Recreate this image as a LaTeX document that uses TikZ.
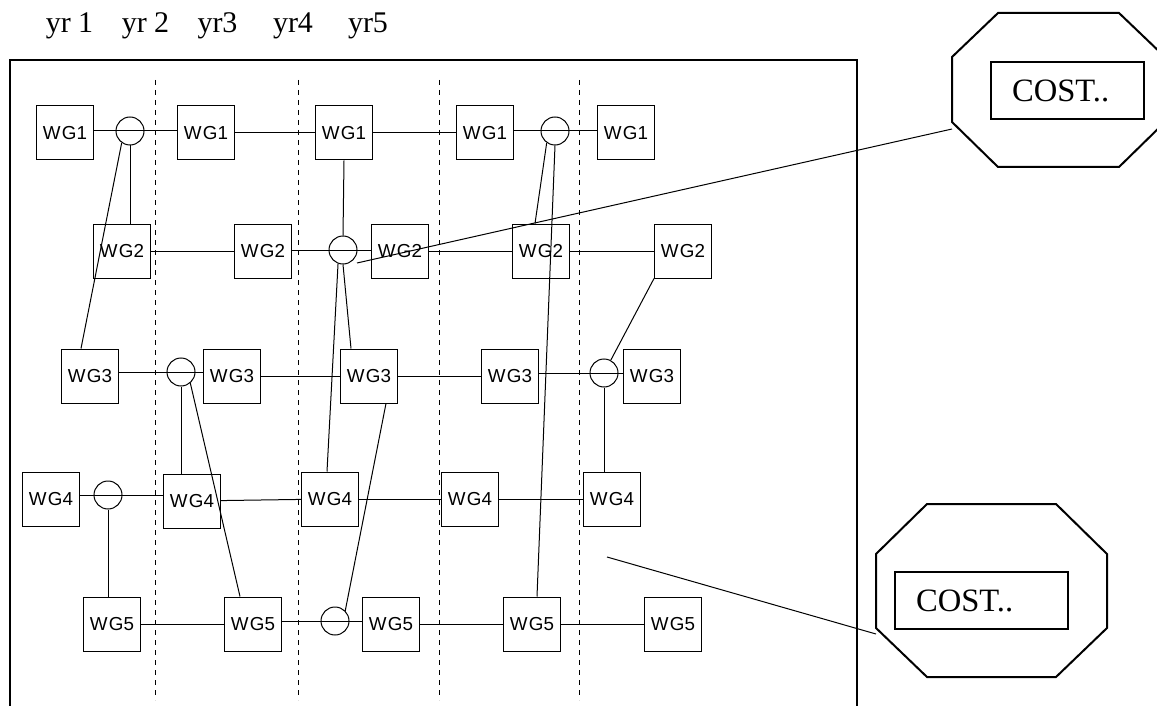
\documentclass[tikz,border=0pt]{standalone}
\usepackage{fontspec}
\setmainfont{Liberation Serif}
\newfontfamily\arialf{Liberation Sans}
\usetikzlibrary{calc}
\begin{document}
\begin{tikzpicture}[x=0.5pt,y=-0.5pt,
  wg/.style={draw, line width=0.5pt, rectangle, minimum width=28.5pt, minimum height=27pt, inner sep=0pt, font=\arialf\fontsize{9.4}{11}\selectfont},
  jn/.style={draw, circle, line width=0.5pt, minimum size=14pt, inner sep=0pt},
  conn/.style={line width=0.5pt},
  yrlab/.style={font=\fontsize{15}{18}\selectfont, anchor=base, inner sep=0pt},
  divider/.style={line width=0.5pt, dash pattern=on 2.5pt off 2.5pt},
  heavy/.style={line width=1pt},
  costbox/.style={draw, line width=1pt, inner xsep=10.5pt, inner ysep=0pt, minimum height=28.5pt, align=left, font=\fontsize{16.3}{19}\selectfont}
]
\useasboundingbox (0,0) rectangle (1157,706);

% year labels
\node[yrlab] (yr1) at (69.5,33) {yr 1};
\node[yrlab] (yr2) at (145.5,33) {yr 2};
\node[yrlab] (yr3) at (217.5,33) {yr3};
\node[yrlab] (yr4) at (293,33) {yr4};
\node[yrlab] (yr5) at (368,33) {yr5};

% frame
\draw[heavy] (10,712) -- (10,60) -- (857,60) -- (857,712);

% dividers
\foreach \x in {155,298,439,579} \draw[divider] (\x,80) -- (\x,700);

% boxes
\node[wg] (A1) at (65,133) {W\kern0.6pt G1};
\node[wg] (A2) at (206,133) {W\kern0.6pt G1};
\node[wg] (A3) at (344,133) {W\kern0.6pt G1};
\node[wg] (A4) at (485,133) {W\kern0.6pt G1};
\node[wg] (A5) at (626,133) {W\kern0.6pt G1};
\node[wg] (B1) at (122,251) {W\kern0.6pt G2};
\node[wg] (B2) at (263,251) {W\kern0.6pt G2};
\node[wg] (B3) at (400,251) {W\kern0.6pt G2};
\node[wg] (B4) at (541,251) {W\kern0.6pt G2};
\node[wg] (B5) at (683,251) {W\kern0.6pt G2};
\node[wg] (C1) at (90,376) {W\kern0.6pt G3};
\node[wg] (C2) at (232,376) {W\kern0.6pt G3};
\node[wg] (C3) at (369,376) {W\kern0.6pt G3};
\node[wg] (C4) at (510,376) {W\kern0.6pt G3};
\node[wg] (C5) at (652,376) {W\kern0.6pt G3};
\node[wg] (D1) at (51,499) {W\kern0.6pt G4};
\node[wg] (D2) at (192,501) {W\kern0.6pt G4};
\node[wg] (D3) at (330,499) {W\kern0.6pt G4};
\node[wg] (D4) at (470,499) {W\kern0.6pt G4};
\node[wg] (D5) at (612,499) {W\kern0.6pt G4};
\node[wg] (E1) at (112,624) {W\kern0.6pt G5};
\node[wg] (E2) at (253,624) {W\kern0.6pt G5};
\node[wg] (E3) at (391,624) {W\kern0.6pt G5};
\node[wg] (E4) at (532,624) {W\kern0.6pt G5};
\node[wg] (E5) at (673,624) {W\kern0.6pt G5};

% junction circles
\node[jn] (c1) at (130,131) {};
\node[jn] (c2) at (343,250) {};
\node[jn] (c3) at (181,372) {};
\node[jn] (c4) at (108,495) {};
\node[jn] (c5) at (555,131) {};
\node[jn] (c6) at (604,373) {};
\node[jn] (c7) at (335,621) {};

% horizontal connectors
\draw[conn] (A1.east |- c1) -- (A2.west |- c1);
\draw[conn] (A2) -- (A3);
\draw[conn] (A3) -- (A4);
\draw[conn] (A4.east |- c5) -- (A5.west |- c5);
\draw[conn] (B1) -- (B2);
\draw[conn] (B2.east |- c2) -- (B3.west |- c2);
\draw[conn] (B3) -- (B4);
\draw[conn] (B4) -- (B5);
\draw[conn] (C1.east |- c3) -- (C2.west |- c3);
\draw[conn] (C2) -- (C3);
\draw[conn] (C3) -- (C4);
\draw[conn] (C4.east |- c6) -- (C5.west |- c6);
\draw[conn] (D1.east |- c4) -- (D2.west |- c4);
\draw[conn] (D2) -- (D3);
\draw[conn] (D3) -- (D4);
\draw[conn] (D4) -- (D5);
\draw[conn] (E1) -- (E2);
\draw[conn] (E2.east |- c7) -- (E3.west |- c7);
\draw[conn] (E3) -- (E4);
\draw[conn] (E4) -- (E5);

% other connectors
\draw[conn] (c1.south) -- (c1.south |- B1.north);
\draw[conn] (c1.235) -- ($(C1.north)+(-9,0)$);
\draw[conn] (A3.south) -- (c2.north);
\draw[conn] (c2.south) -- ($(C3.north)+(-18,0)$);
\draw[conn] (c2.250) -- ($(D3.north)+(-3,0)$);
\draw[conn] (c5.235) -- ($(B4.north)+(-6,0)$);
\draw[conn] (c5.south) -- ($(E4.north)+(5,0)$);
\draw[conn] (B5.south west) -- (c6);
\draw[conn] (c6.south) -- (c6.south |- D5.north);
\draw[conn] (c3.south) -- (c3.south |- D2.north);
\draw[conn] (c3.310) -- ($(E2.north)+(-13,0)$);
\draw[conn] (c4.south) -- (c4.south |- E1.north);
\draw[conn] ($(C3.south)+(17,0)$) -- (c7.45);

% cost callouts
\draw[heavy] (998,13) -- (1119,13) -- (1165,57) -- (1165,122) -- (1119,167) -- (998,167) -- (952,122) -- (952,57) -- cycle;
\node[costbox, text width=55.5pt] (cost1) at (1067.5,90.5) {COST..};
\draw[heavy] (927,504) -- (1056,504) -- (1107,554) -- (1107,628) -- (1056,677) -- (927,677) -- (876,628) -- (876,554) -- cycle;
\node[costbox, text width=65.5pt] (cost2) at (981.5,600.5) {COST..};

\coordinate (o1) at (952,129);
\coordinate (p1) at (357,263);
\coordinate (o2) at (876,634);
\coordinate (p2) at (607,557);
\draw[conn] (o1) -- (p1);
\draw[conn] (o2) -- (p2);
\end{tikzpicture}
\end{document}
